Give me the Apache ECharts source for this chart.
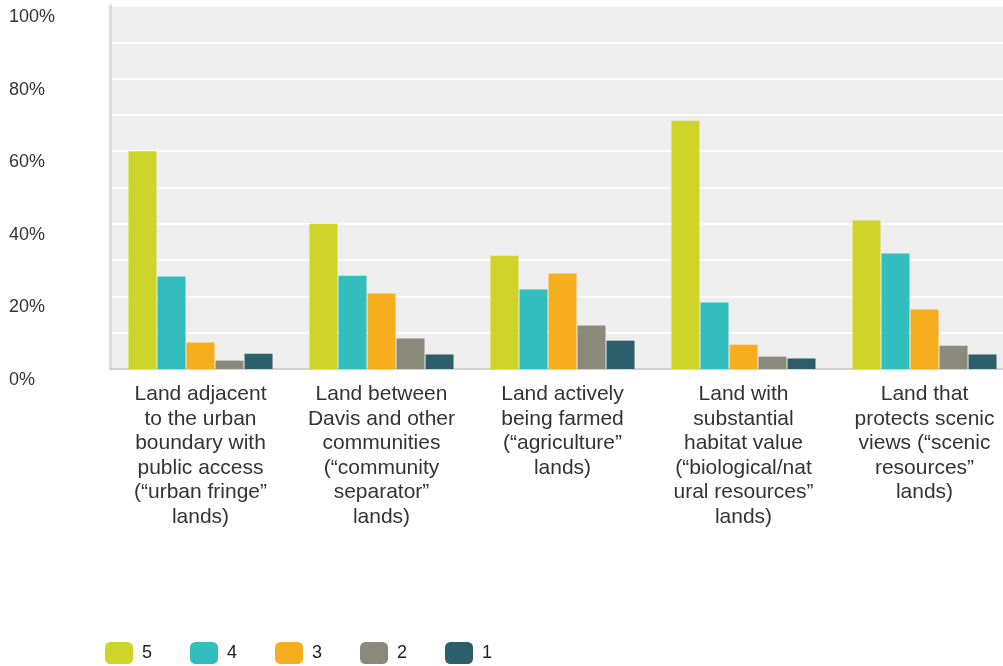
<!DOCTYPE html>
<html>
<head>
<meta charset="utf-8">
<script src="https://cdn.jsdelivr.net/npm/echarts@6/dist/echarts.min.js"></script>
<style>
html,body{margin:0;padding:0;background:#fff;}
#chart{width:1003px;height:666px;}
</style>
</head>
<body>
<div id="chart"></div>
<script>
var categories = [
  "Land adjacent\nto the urban\nboundary with\npublic access\n(\u201curban fringe\u201d\nlands)",
  "Land between\nDavis and other\ncommunities\n(\u201ccommunity\nseparator\u201d\nlands)",
  "Land actively\nbeing farmed\n(\u201cagriculture\u201d\nlands)",
  "Land with\nsubstantial\nhabitat value\n(\u201cbiological/nat\nural resources\u201d\nlands)",
  "Land that\nprotects scenic\nviews (\u201cscenic\nresources\u201d\nlands)"
];
var seriesNames = ["5", "4", "3", "2", "1"];
var values5 = [60.0, 40.0, 31.2, 68.4, 40.9];
var values4 = [25.5, 25.7, 21.9, 18.3, 31.8];
var values3 = [7.3, 20.8, 26.3, 6.7, 16.4];
var values2 = [2.3, 8.4, 12.0, 3.4, 6.4];
var values1 = [4.2, 4.0, 7.8, 2.9, 4.0];
var seriesValues = [values5, values4, values3, values2, values1];
var colors = ["#CED428", "#32BDBF", "#F6AE1F", "#8A8A7A", "#2D5E6C"];
var yTicks = [0, 20, 40, 60, 80, 100];

var font = "'Liberation Sans', Arial, sans-serif";
var chart = echarts.init(document.getElementById('chart'), null, {renderer: 'canvas'});
var series = seriesNames.map(function (n, i) {
  return {
    name: n,
    type: 'bar',
    data: seriesValues[i],
    barWidth: 28,
    barGap: '3.6%',
    itemStyle: {color: colors[i]},
    emphasis: {disabled: true}
  };
});
chart.setOption({
  animation: false,
  textStyle: {fontFamily: font},
  color: colors,
  grid: {
    left: 110, right: -12, top: 6, bottom: 297,
    containLabel: false, outerBoundsMode: 'none',
    show: true, backgroundColor: '#EEEEEE', borderWidth: 0
  },
  legend: {
    data: seriesNames,
    left: 105, top: 642, padding: 0,
    icon: 'roundRect',
    itemWidth: 28, itemHeight: 22, itemGap: 38,
    textStyle: {fontSize: 18, color: '#222', fontFamily: font, padding: [0, 0, 6, 4]}
  },
  xAxis: {
    type: 'category',
    data: categories,
    axisLine: {show: true, lineStyle: {color: '#D2D2D2', width: 2}},
    axisTick: {show: false},
    axisLabel: {
      interval: 0, margin: 13, fontSize: 21, lineHeight: 24.6,
      color: '#333333', fontFamily: font, verticalAlign: 'top'
    }
  },
  yAxis: {
    type: 'value',
    min: 0, max: 100, interval: 10,
    axisLine: {show: true, lineStyle: {color: '#DCDCDC', width: 3}},
    axisTick: {show: false},
    splitLine: {show: true, lineStyle: {color: '#FFFFFF', width: 1.5}},
    axisLabel: {
      margin: 101, align: 'left', verticalAlign: 'top',
      padding: [2, 0, 0, 0],
      fontSize: 18, color: '#333333', fontFamily: font,
      formatter: function (v) { return yTicks.indexOf(v) >= 0 ? v + '%' : ''; }
    }
  },
  series: series
});
</script>
</body>
</html>
